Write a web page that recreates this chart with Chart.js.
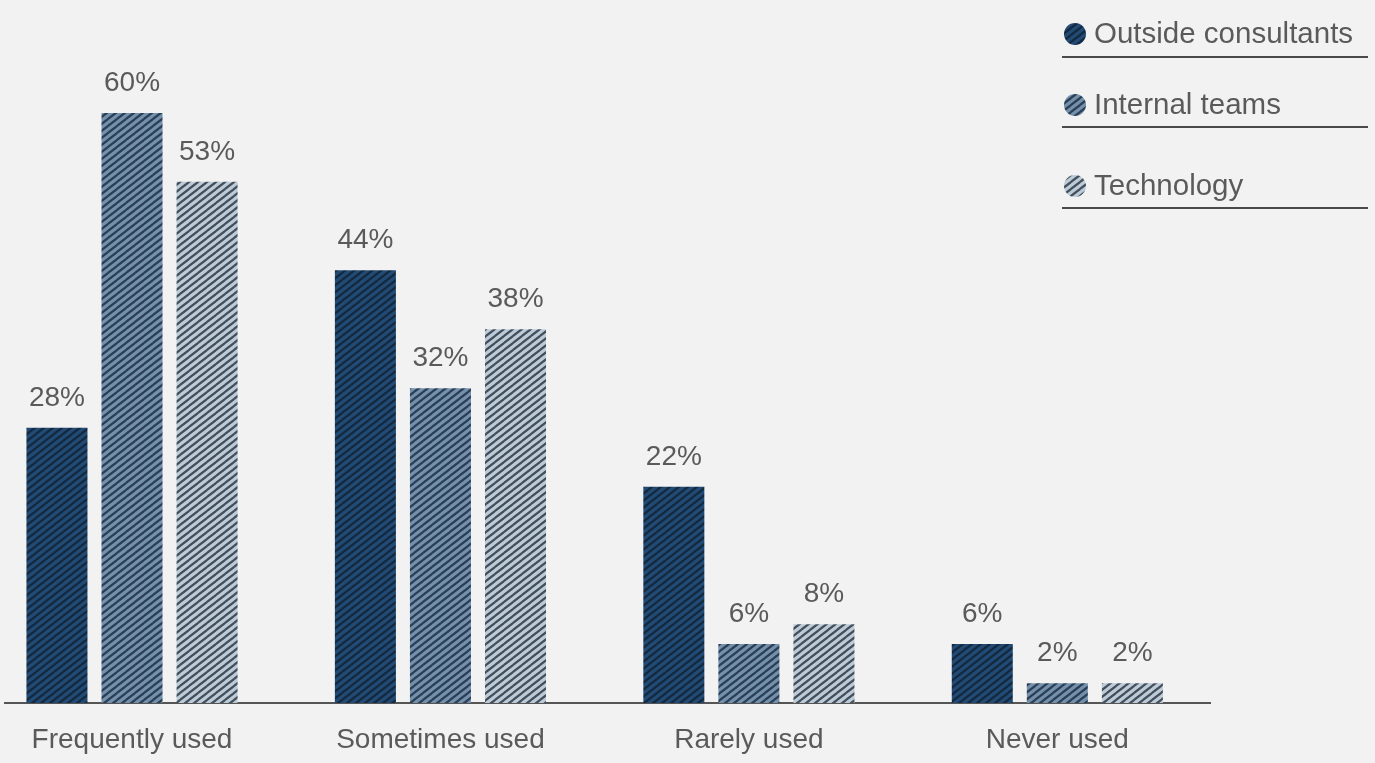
<!DOCTYPE html>
<html>
<head>
<meta charset="utf-8">
<script src="https://cdn.jsdelivr.net/npm/chart.js@4/dist/chart.umd.min.js"></script>
<style>
  html, body { margin: 0; padding: 0; background: #f2f2f2; }
  #wrap { width: 1375px; height: 763px; position: relative; }
</style>
</head>
<body>
<div id="wrap"><canvas id="c" width="1375" height="763"></canvas></div>
<script>
const categories = ['Frequently used', 'Sometimes used', 'Rarely used', 'Never used'];
const seriesNames = ['Outside consultants', 'Internal teams', 'Technology'];
const outsideConsultants = [28, 44, 22, 6];
const internalTeams = [60, 32, 6, 2];
const technology = [53, 38, 8, 2];

const FONT = '"Liberation Sans", Arial, Helvetica, sans-serif';
const TEXT = '#5a5a5a';

function makePattern(bg, stripe) {
  const w = 9, h = 7;
  const c = document.createElement('canvas');
  c.width = w; c.height = h;
  const g = c.getContext('2d');
  g.fillStyle = bg; g.fillRect(0, 0, w, h);
  g.strokeStyle = stripe; g.lineWidth = 2.2;
  g.beginPath();
  for (let dx = -1; dx <= 1; dx++) {
    for (let dy = -1; dy <= 1; dy++) {
      g.moveTo(dx * w, h + dy * h);
      g.lineTo(w + dx * w, dy * h);
    }
  }
  g.stroke();
  return g.createPattern(c, 'repeat');
}
const ctx0 = document.getElementById('c').getContext('2d');
const patterns = [
  makePattern('#214b75', '#14293f'),
  makePattern('#7390ad', '#2b3e53'),
  makePattern('#bccbd8', '#434e5a')
];

const seriesValues = [outsideConsultants, internalTeams, technology];
const datasets = seriesValues.map((vals, k) => ({
  label: seriesNames[k],
  data: vals.map((v, i) => ({ x: i, y: v })),
  backgroundColor: patterns[k],
  borderWidth: 0,
  categoryPercentage: 0.73,
  barPercentage: 0.813
}));

const valueLabels = {
  id: 'valueLabels',
  afterDatasetsDraw(chart) {
    const ctx = chart.ctx;
    ctx.save();
    ctx.font = '28px ' + FONT;
    ctx.fillStyle = TEXT;
    ctx.textAlign = 'center';
    ctx.textBaseline = 'alphabetic';
    chart.data.datasets.forEach((ds, k) => {
      const meta = chart.getDatasetMeta(k);
      meta.data.forEach((el, i) => {
        ctx.fillText(ds.data[i].y + '%', el.x, el.y - 22);
      });
    });
    ctx.restore();
  }
};

const customLegend = {
  id: 'customLegend',
  afterDraw(chart) {
    const ctx = chart.ctx;
    const rows = [34, 105, 186];
    const lines = [57, 127, 208];
    ctx.save();
    chart.data.datasets.forEach((ds, k) => {
      ctx.beginPath();
      ctx.arc(1075, rows[k], 11, 0, Math.PI * 2);
      ctx.fillStyle = ds.backgroundColor;
      ctx.fill();
      ctx.font = '29.5px ' + FONT;
      ctx.fillStyle = TEXT;
      ctx.textAlign = 'left';
      ctx.textBaseline = 'middle';
      ctx.fillText(ds.label, 1094, rows[k] + 1);
      ctx.beginPath();
      ctx.moveTo(1062, lines[k]);
      ctx.lineTo(1368, lines[k]);
      ctx.strokeStyle = '#4a4a4a';
      ctx.lineWidth = 2;
      ctx.stroke();
    });
    ctx.restore();
  }
};

new Chart(ctx0, {
  type: 'bar',
  data: { datasets },
  options: {
    responsive: false,
    animation: false,
    layout: { padding: { left: 5, right: 165, top: 113, bottom: 0 } },
    plugins: { legend: { display: false }, tooltip: { enabled: false } },
    scales: {
      x: {
        type: 'linear',
        offset: false,
        min: -0.4118,
        max: 3.495,
        afterBuildTicks: (axis) => { axis.ticks = categories.map((c, i) => ({ value: i })); },
        afterFit: (axis) => { axis.height = 60; },
        grid: { display: false, drawTicks: false, offset: false },
        border: { display: true, color: '#555555', width: 2 },
        ticks: {
          padding: 20,
          color: TEXT,
          font: { size: 28, family: FONT },
          maxRotation: 0,
          autoSkip: false,
          callback: (v) => categories[v]
        }
      },
      y: {
        display: false,
        min: 0,
        max: 60
      }
    }
  },
  plugins: [valueLabels, customLegend]
});
</script>
</body>
</html>
